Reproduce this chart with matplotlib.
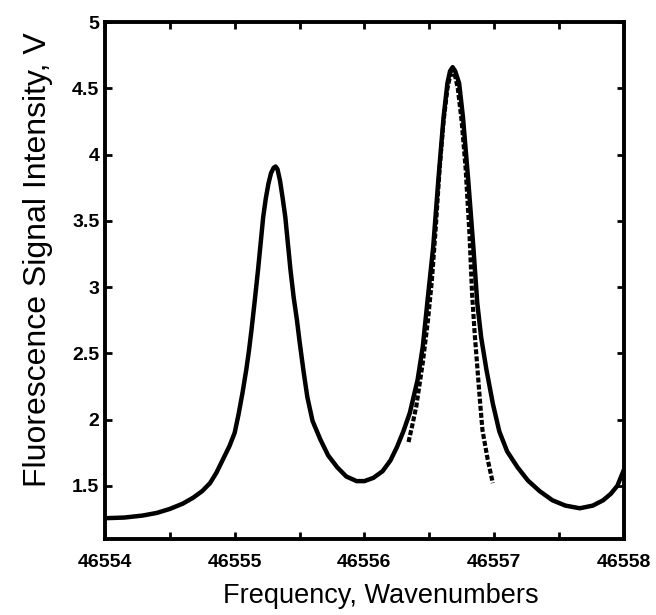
import matplotlib
matplotlib.use('Agg')
import matplotlib.pyplot as plt
import numpy as np

freq = [46554.00, 46554.15, 46554.29, 46554.40, 46554.50, 46554.60, 46554.68,
        46554.75, 46554.81, 46554.86, 46554.91, 46554.96, 46555.00, 46555.03,
        46555.06, 46555.09, 46555.11, 46555.13, 46555.155, 46555.18, 46555.20,
        46555.22, 46555.24, 46555.26, 46555.28, 46555.30, 46555.315, 46555.33,
        46555.35, 46555.37, 46555.39, 46555.41, 46555.43, 46555.455, 46555.48,
        46555.50, 46555.53, 46555.56, 46555.60, 46555.66, 46555.72, 46555.79,
        46555.86, 46555.94, 46556.00, 46556.07, 46556.14, 46556.20, 46556.25,
        46556.30, 46556.35, 46556.41, 46556.45, 46556.49, 46556.53, 46556.57,
        46556.61, 46556.64, 46556.66, 46556.68, 46556.70, 46556.73, 46556.76,
        46556.80, 46556.84, 46556.87, 46556.90, 46556.94, 46556.99, 46557.04,
        46557.10, 46557.18, 46557.26, 46557.35, 46557.45, 46557.55, 46557.66,
        46557.76, 46557.84, 46557.90, 46557.95, 46558.00]
signal = [1.255, 1.26, 1.275, 1.295, 1.325, 1.365, 1.41,
          1.46, 1.52, 1.60, 1.70, 1.80, 1.90, 2.04,
          2.20, 2.38, 2.52, 2.68, 2.90, 3.13, 3.33,
          3.53, 3.67, 3.78, 3.86, 3.90, 3.91, 3.89,
          3.80, 3.67, 3.53, 3.33, 3.13, 2.92, 2.75,
          2.59, 2.37, 2.17, 1.99, 1.85, 1.73, 1.64,
          1.57, 1.535, 1.535, 1.56, 1.61, 1.69, 1.79,
          1.91, 2.05, 2.30, 2.55, 2.93, 3.30, 3.81,
          4.28, 4.54, 4.63, 4.66, 4.63, 4.54, 4.28,
          3.81, 3.30, 2.88, 2.62, 2.38, 2.12, 1.91,
          1.76, 1.64, 1.54, 1.46, 1.39, 1.35, 1.33,
          1.35, 1.39, 1.44, 1.50, 1.62]

# Dashed curve (fit)
fit_freq = [46556.34, 46556.37, 46556.40, 46556.45, 46556.49, 46556.52, 46556.55,
            46556.58, 46556.61, 46556.64, 46556.66, 46556.68, 46556.70, 46556.72,
            46556.75, 46556.78, 46556.81, 46556.83, 46556.85, 46556.87, 46556.89,
            46556.91, 46556.95, 46556.99]
fit_signal = [1.83, 1.96, 2.10, 2.43, 2.75, 3.05, 3.45,
              3.90, 4.25, 4.50, 4.59, 4.62, 4.59, 4.50,
              4.25, 3.90, 3.40, 2.95, 2.65, 2.40, 2.15,
              1.92, 1.70, 1.52]

fig = plt.figure(figsize=(6.56, 6.15), dpi=100)
ax = fig.add_axes([0.160, 0.124, 0.791, 0.840])

ax.plot(freq, signal, color='black', linewidth=3.2,
        solid_joinstyle='round', solid_capstyle='round')
ax.plot(fit_freq, fit_signal, color='black', linewidth=3.0,
        linestyle=(0, (1.2, 0.5)))

ax.set_xlim(46554, 46558)
ax.set_ylim(1.1, 5)

ax.set_xticks(np.arange(46554, 46558.01, 0.5))
ax.set_xticklabels(['46554', '', '46555', '', '46556', '', '46557', '', '46558'])
ax.set_yticks(np.arange(1.5, 5.01, 0.5))
ax.set_yticklabels(['1.5', '2', '2.5', '3', '3.5', '4', '4.5', '5'])

ax.tick_params(direction='in', length=5, width=2, top=True, right=True,
               labelsize=14)
ax.tick_params(axis='x', pad=11)
ax.tick_params(axis='y', pad=4)
for lab in ax.get_xticklabels() + ax.get_yticklabels():
    lab.set_fontfamily('Liberation Sans')
    lab.set_fontweight('bold')

for sp in ax.spines.values():
    sp.set_linewidth(2.8)

ax.set_xlabel('Frequency, Wavenumbers', fontsize=19.5, family='Liberation Sans', labelpad=8)
ax.xaxis.set_label_coords(0.532, -0.085)
ax.set_ylabel('Fluorescence Signal Intensity, V', fontsize=23, family='Liberation Sans')
ax.yaxis.set_label_coords(-0.10, 0.54)

plt.savefig('out.png', dpi=100)
plt.close()
